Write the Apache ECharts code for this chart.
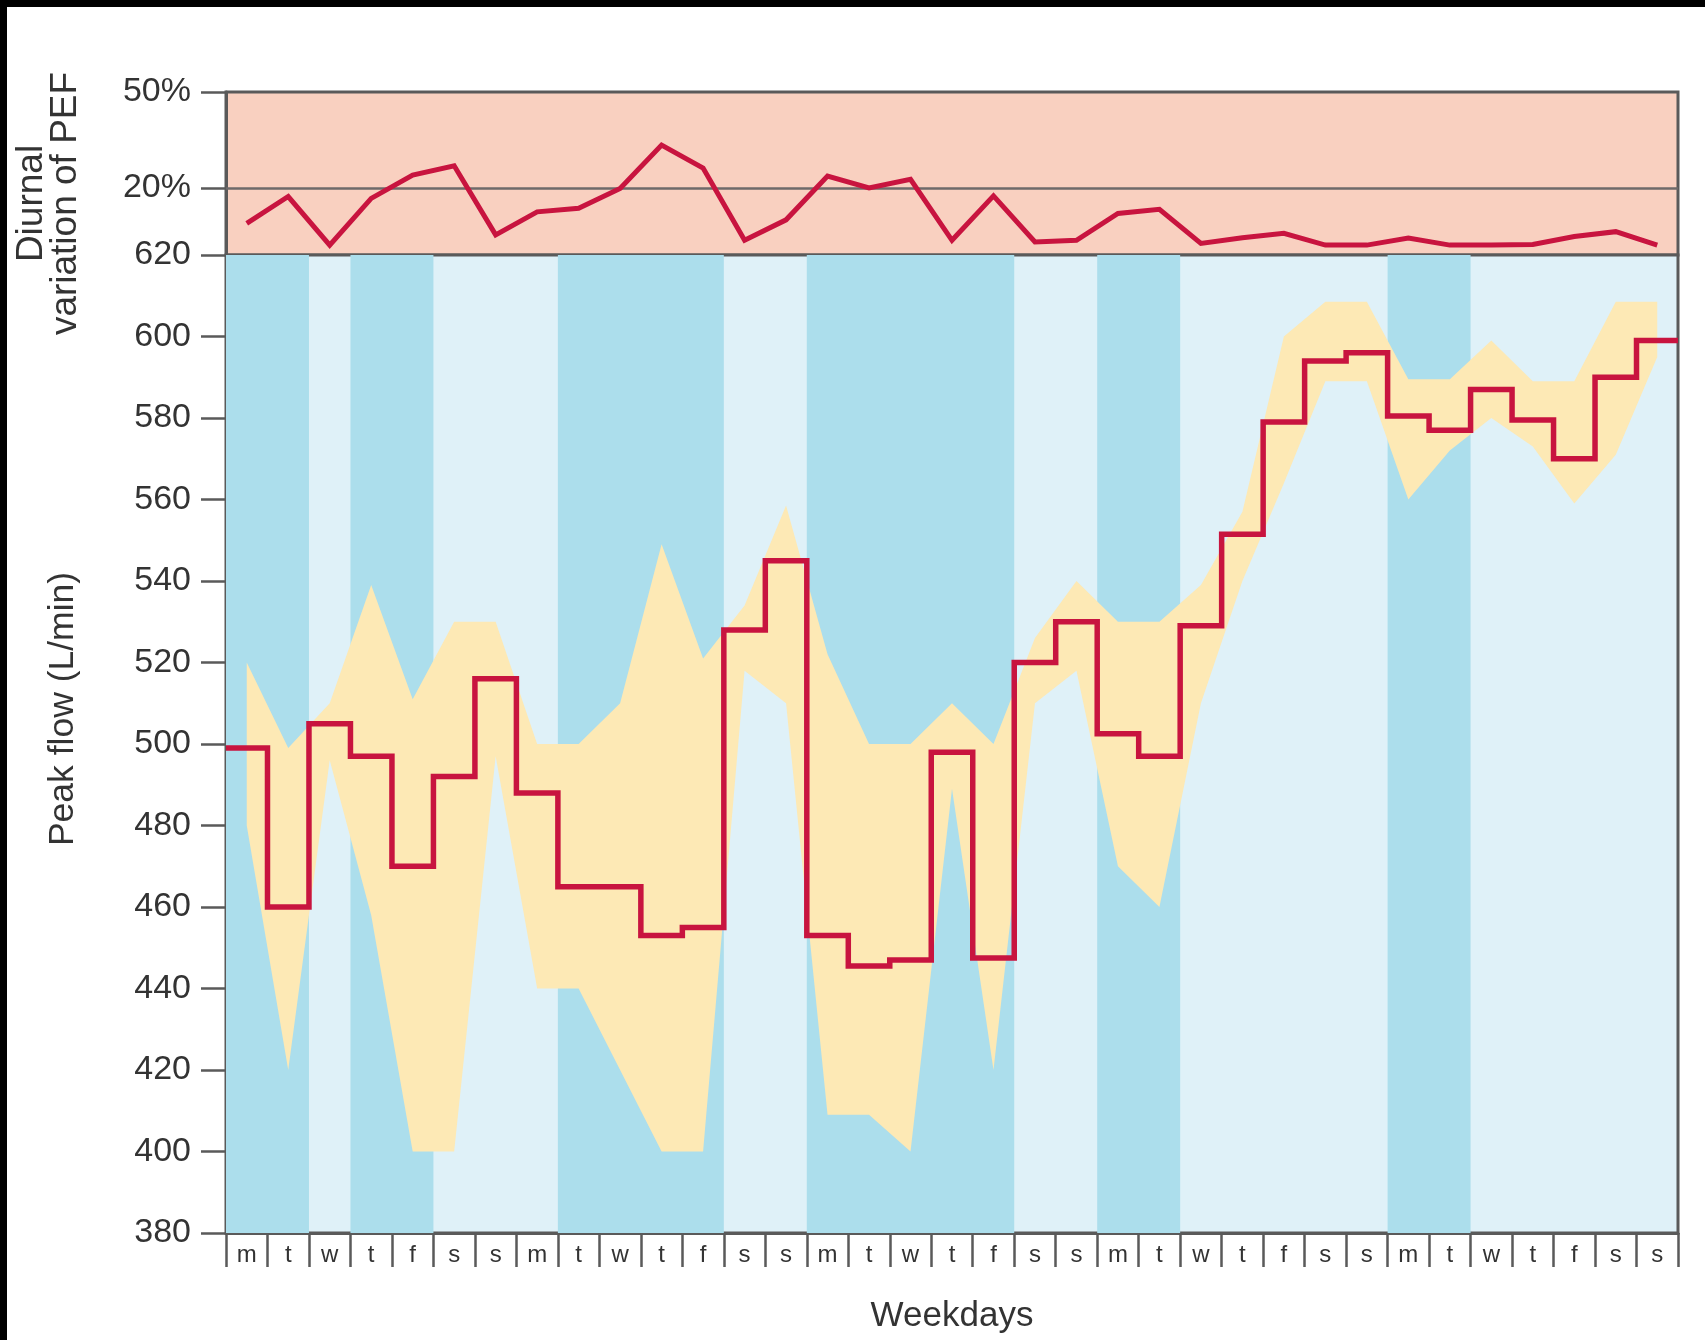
<!DOCTYPE html>
<html>
<head>
<meta charset="utf-8">
<script src="https://cdn.jsdelivr.net/npm/echarts@6/dist/echarts.min.js"></script>
<style>
  html, body { margin: 0; padding: 0; background: #ffffff; }
  #chart { position: absolute; left: 0; top: 0; width: 1705px; height: 1340px; }
  .bar { position: absolute; background: #000; }
</style>
</head>
<body>
<div id="chart"></div>
<div class="bar" style="left:0;top:0;width:1705px;height:7px;"></div>
<div class="bar" style="left:0;top:0;width:7px;height:1340px;"></div>
<script>
// ---- data ----
const dayLabels = ['m','t','w','t','f','s','s','m','t','w','t','f','s','s','m','t','w','t','f','s','s','m','t','w','t','f','s','s','m','t','w','t','f','s','s'];
// 1 = darker shaded day column
const darkDays = [1,1,0,1,1,0,0, 0,1,1,1,1,0,0, 1,1,1,1,1,0,0, 1,1,0,0,0,0,0, 1,1,0,0,0,0,0];
// daily peak flow (step line), L/min
const peakFlow = [499,460,505,497,470,492,516, 488,465,465,453,455,528,545, 453,445.5,447,498,447.5,520,530, 502.5,497,529,551.5,579,594,596, 580.5,577,587,579.5,570,590,599];
// daily range of readings (yellow band)
const rangeHigh = [520,499,510,539,511,530,530, 500,500,510,549,521,534,558.5, 522,500,500,510,500,526,540, 530,530,539,557,600,608.5,608.5, 589.5,589.5,599,589,589,608.5,608.5];
const rangeLow  = [480,420,496,458,400,400,497, 440,440,420,400,400,518,510, 409,409,400,489,420,510,518, 470,460,510,540,564,589,589, 560,572,580,573,559,571,595];
// diurnal variation of PEF, %
const diurnal = [8.9,17.3,2.1,16.7,24.0,26.9,5.3, 12.5,13.6,19.8,33.4,26.2,3.6,10.0, 23.7,20.0,22.7,3.6,17.5,3.1,3.6, 12.0,13.3,2.6,4.4,5.8,2.1,2.1, 4.3,2.1,2.1,2.3,4.8,6.3,2.1];
const peakTicks = { min: 380, max: 620, step: 20 };
const pctRange = { min: -1, max: 50 };
const pctTicks = [20, 50];
const pctThreshold = 20;

// ---- build ----
const FONT = '"Liberation Sans", Arial, Helvetica, sans-serif';
const TXT = '#333333';
const AX = '#5a5a5a';
const RED = '#c8143f';

const n = dayLabels.length;
const stepData = peakFlow.map((v, i) => [i, v]);
stepData.push([n, peakFlow[n - 1]]);
const diurnalData = diurnal.map((v, i) => [i + 0.5, v]);
const bandDiff = rangeHigh.map((h, i) => h - rangeLow[i]);

const runs = [];
let s = null;
for (let i = 0; i <= n; i++) {
  const d = i < n ? darkDays[i] : 0;
  if (d && s === null) s = i;
  if (!d && s !== null) { runs.push([{ xAxis: s }, { xAxis: i }]); s = null; }
}

const chart = echarts.init(document.getElementById('chart'), null, { renderer: 'canvas' });
chart.setOption({
  animation: false,
  backgroundColor: '#ffffff',
  textStyle: { fontFamily: FONT },
  grid: [
    { left: 226, right: 27, top: 92, height: 163, show: true, backgroundColor: '#f9d0c0', borderColor: AX, borderWidth: 3 },
    { left: 226, right: 27, top: 255, bottom: 107, show: true, backgroundColor: '#dff1f8', borderColor: AX, borderWidth: 3 }
  ],
  xAxis: [
    { gridIndex: 0, type: 'value', min: 0, max: n, show: false },
    { gridIndex: 1, type: 'value', min: 0, max: n, show: false, position: 'top' },
    {
      gridIndex: 1, type: 'category', data: dayLabels, position: 'bottom', boundaryGap: true,
      axisLine: { show: true, onZero: false, lineStyle: { color: AX, width: 3 } },
      axisTick: { show: true, interval: 0, length: 34, lineStyle: { color: AX, width: 2.5 } },
      axisLabel: { interval: 0, margin: 10, fontSize: 24, color: TXT, fontFamily: FONT },
      name: 'Weekdays', nameLocation: 'middle', nameGap: 66,
      nameTextStyle: { fontSize: 35, color: TXT, fontFamily: FONT },
      splitLine: { show: false }
    }
  ],
  yAxis: [
    {
      gridIndex: 0, type: 'value', min: pctRange.min, max: pctRange.max,
      axisLine: { show: true, lineStyle: { color: AX, width: 3 } },
      axisTick: { show: true, customValues: pctTicks, length: 25, lineStyle: { color: AX, width: 2.5 } },
      axisLabel: { customValues: pctTicks, formatter: '{value}%', margin: 35, fontSize: 34, color: TXT, fontFamily: FONT },
      splitLine: { show: false },
      name: 'Diurnal\nvariation of PEF', nameLocation: 'middle', nameRotate: 90, nameGap: 143,
      nameTextStyle: { fontSize: 37, lineHeight: 34, color: TXT, fontFamily: FONT, padding: [0, 60, 0, 0] }
    },
    {
      gridIndex: 1, type: 'value', min: peakTicks.min, max: peakTicks.max, interval: peakTicks.step,
      axisLine: { show: true, lineStyle: { color: AX, width: 3 } },
      axisTick: { show: true, length: 25, lineStyle: { color: AX, width: 2.5 } },
      axisLabel: { margin: 35, fontSize: 34, color: TXT, fontFamily: FONT },
      splitLine: { show: false },
      name: 'Peak flow (L/min)', nameLocation: 'middle', nameRotate: 90, nameGap: 145,
      nameTextStyle: { fontSize: 35.5, color: TXT, fontFamily: FONT, padding: [0, 0, 0, 70] }
    }
  ],
  series: [
    {
      name: 'dayShading', type: 'line', xAxisIndex: 1, yAxisIndex: 1, data: [], silent: true,
      markArea: { silent: true, itemStyle: { color: '#acdeec' }, data: runs }
    },
    {
      name: 'rangeLow', type: 'line', xAxisIndex: 2, yAxisIndex: 1, stack: 'range', data: rangeLow,
      symbol: 'none', lineStyle: { width: 0, opacity: 0 }, silent: true, z: 2
    },
    {
      name: 'range', type: 'line', xAxisIndex: 2, yAxisIndex: 1, stack: 'range', data: bandDiff,
      symbol: 'none', lineStyle: { width: 0, opacity: 0 }, areaStyle: { color: '#fde9b5', opacity: 1 }, silent: true, z: 2
    },
    {
      name: 'peakFlow', type: 'line', xAxisIndex: 1, yAxisIndex: 1, data: stepData, step: 'end',
      symbol: 'none', lineStyle: { color: RED, width: 5.5, join: 'miter', cap: 'butt' }, z: 4
    },
    {
      name: 'diurnal', type: 'line', xAxisIndex: 0, yAxisIndex: 0, data: diurnalData,
      symbol: 'none', lineStyle: { color: RED, width: 5, join: 'miter' }, z: 4,
      markLine: {
        silent: true, symbol: 'none', label: { show: false },
        lineStyle: { color: '#6e6a6a', width: 2.5, type: 'solid' },
        data: [{ yAxis: pctThreshold }], z: 3
      }
    }
  ]
});
</script>
</body>
</html>
